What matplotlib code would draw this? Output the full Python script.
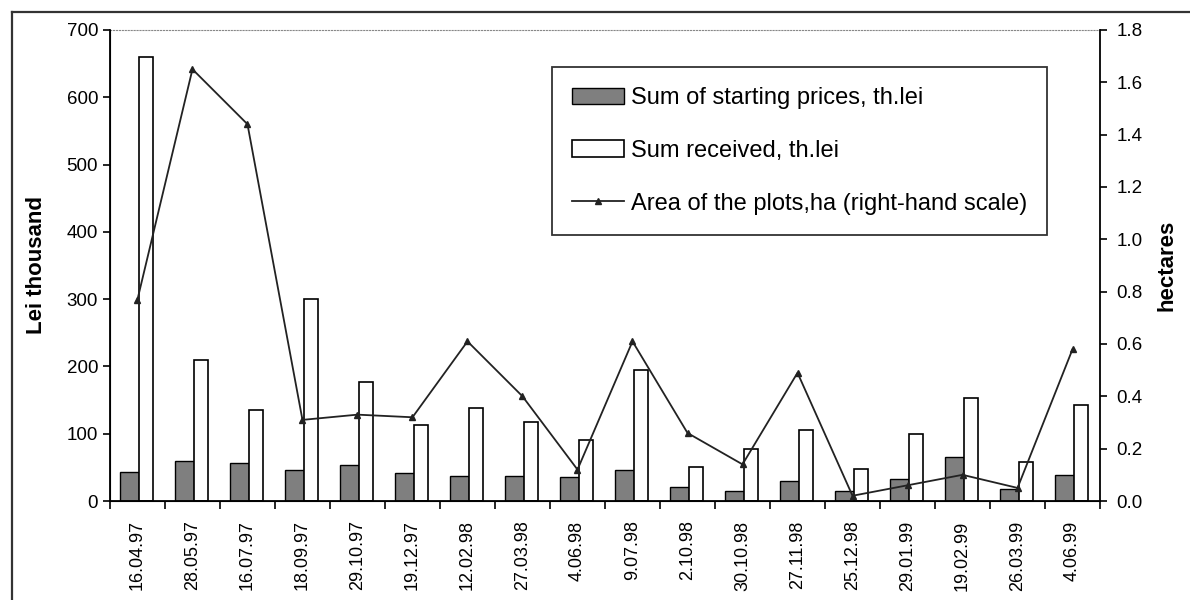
import matplotlib.pyplot as plt
from matplotlib.lines import Line2D
import numpy as np

plt.rcParams['font.family'] = ['Liberation Sans', 'DejaVu Sans']

dates = ['16.04.97', '28.05.97', '16.07.97', '18.09.97', '29.10.97', '19.12.97',
         '12.02.98', '27.03.98', '4.06.98', '9.07.98', '2.10.98', '30.10.98',
         '27.11.98', '25.12.98', '29.01.99', '19.02.99', '26.03.99', '4.06.99']
start_prices = [43, 60, 57, 46, 53, 42, 37, 37, 35, 46, 21, 15, 30, 15, 32, 65, 18, 38]
received = [660, 210, 135, 300, 177, 113, 138, 118, 90, 195, 50, 77, 105, 47, 100, 153, 58, 142]
area_ha = [0.77, 1.65, 1.44, 0.31, 0.33, 0.32, 0.61, 0.40, 0.12, 0.61, 0.26, 0.14,
           0.49, 0.02, 0.06, 0.10, 0.05, 0.58]

fig = plt.figure(figsize=(11.9, 6), dpi=100)
ax = fig.add_axes([0.0924, 0.165, 0.832, 0.785])
x = np.arange(len(dates))

b1 = ax.bar(x - 0.31, start_prices, 0.34, align='edge', color='#7f7f7f', edgecolor='black',
            linewidth=1, label='Sum of starting prices, th.lei', zorder=2)
b2 = ax.bar(x + 0.03, received, 0.25, align='edge', color='white', edgecolor='black',
            linewidth=1.2, label='Sum received, th.lei', zorder=2)

ax.set_xlim(-0.5, len(dates) - 0.5)
ax.set_ylim(0, 700)
ax.set_yticks(range(0, 701, 100))
# labels sit under each category, tick marks fall between categories
ax.set_xticks(x)
ax.set_xticklabels(dates, rotation=90, fontsize=13)
ax.set_xticks(np.arange(-0.5, len(dates)), minor=True)
ax.tick_params(axis='x', which='major', length=0, pad=14)
ax.tick_params(axis='x', which='minor', direction='out', length=6, width=1.2)
ax.tick_params(axis='y', labelsize=13.5, direction='out', length=5, width=1.2)
ax.set_ylabel('Lei thousand', fontsize=16, fontweight='bold', labelpad=14)
ax.spines['top'].set_color('#888888')
ax.spines['top'].set_linestyle(':')
ax.spines['right'].set_visible(False)
for s in ('left', 'bottom'):
    ax.spines[s].set_linewidth(1.3)

ax2 = ax.twinx()
ln, = ax2.plot(x, area_ha, color='#222222', lw=1.3, marker='^', markersize=5,
               label='Area of the plots,ha (right-hand scale)', zorder=3)
ax2.set_ylim(0, 1.8)
ax2.set_yticks(np.arange(0, 1.81, 0.2))
ax2.set_yticklabels([f'{v:.1f}' for v in np.arange(0, 1.81, 0.2)])
ax2.tick_params(axis='y', labelsize=13.5, direction='out', length=5, width=1.2, pad=7)
ax2.set_ylabel('hectares', fontsize=16, fontweight='bold', labelpad=10)
ax2.spines['top'].set_visible(False)
ax2.spines['right'].set_linewidth(1.3)

leg = ax2.legend(handles=[b1, b2, ln], loc='upper left', bbox_to_anchor=(0.4465, 0.921),
                 fontsize=17, frameon=True, fancybox=False, edgecolor='black',
                 labelspacing=1.3, handlelength=2.2, handletextpad=0.3,
                 borderpad=0.85, borderaxespad=0)
leg.get_frame().set_linewidth(1.3)

# page frame: top and left edges
fig.add_artist(Line2D([12 / 1190, 1], [1 - 12 / 600, 1 - 12 / 600], color='#333333', lw=1.6))
fig.add_artist(Line2D([12 / 1190, 12 / 1190], [0, 1 - 12 / 600], color='#333333', lw=1.6))

fig.savefig('out.png', dpi=100)
